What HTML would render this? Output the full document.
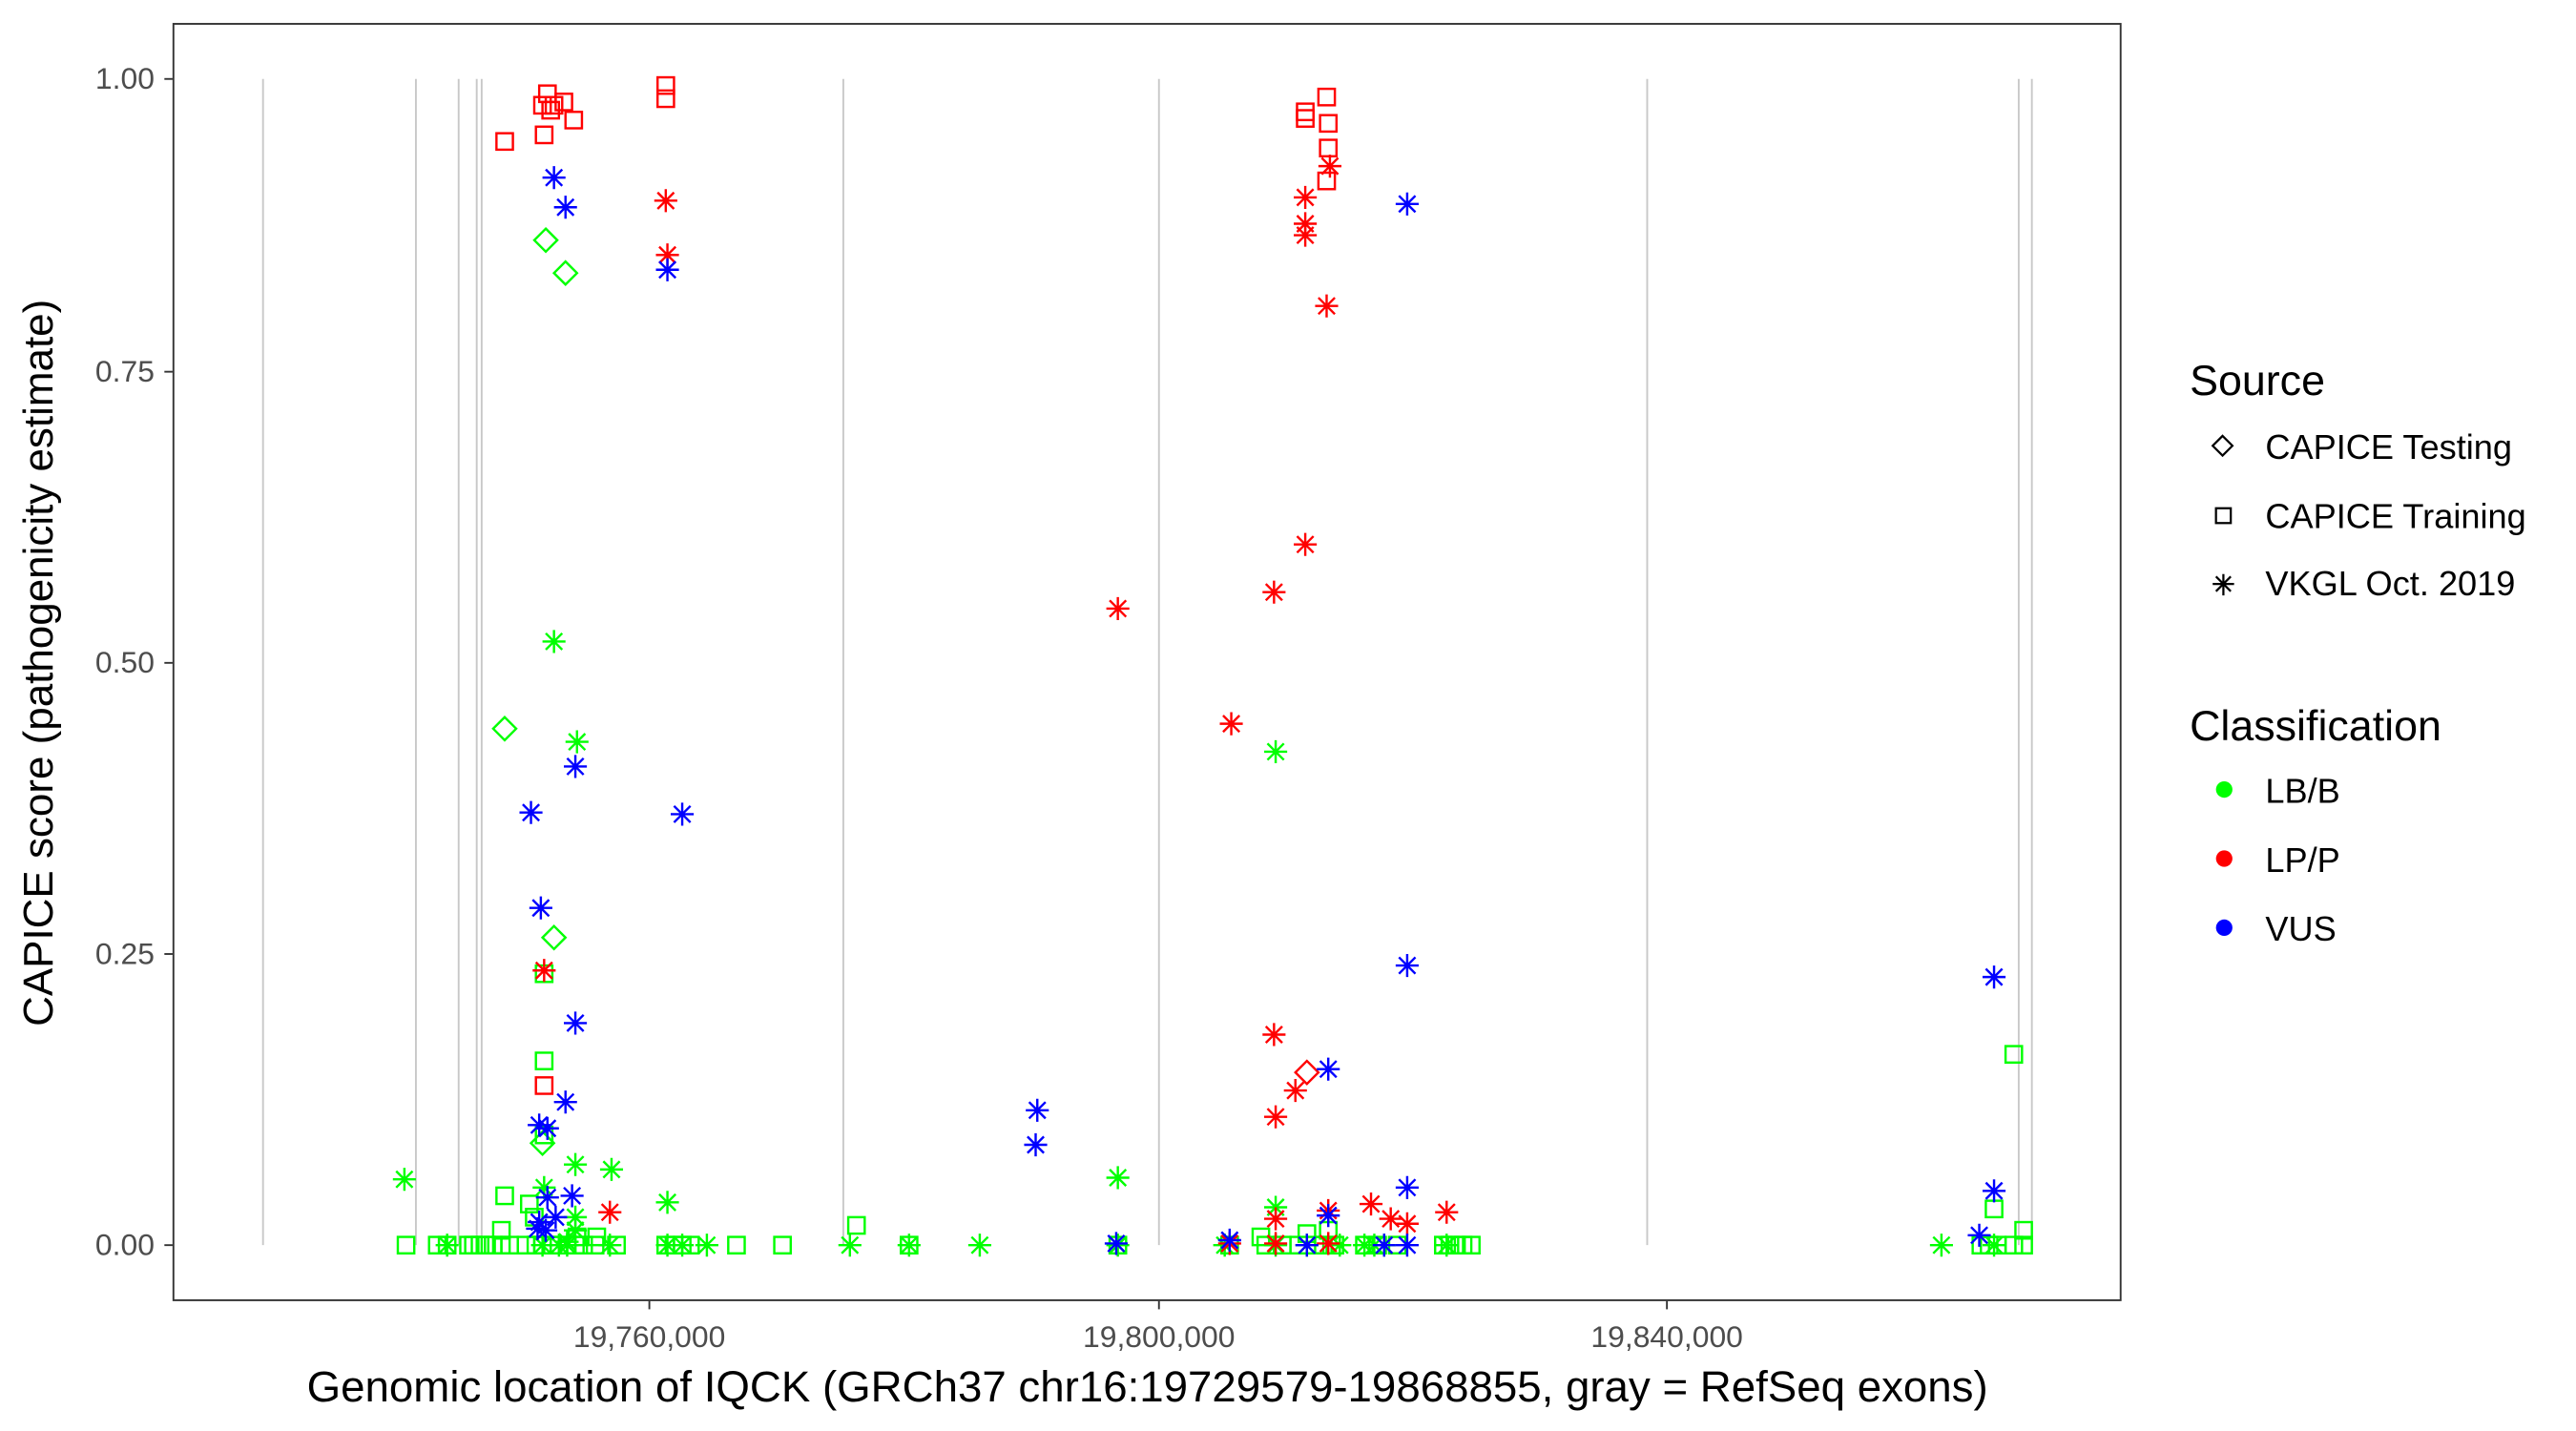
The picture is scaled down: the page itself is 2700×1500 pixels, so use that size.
<!DOCTYPE html>
<html><head><meta charset="utf-8"><style>
html,body{margin:0;padding:0;background:#fff;}
svg{display:block;}
text{font-family:"Liberation Sans",Arial,sans-serif;}
</style></head><body>
<svg id="s" width="2700" height="1500" viewBox="0 0 1567 870" preserveAspectRatio="none" xmlns="http://www.w3.org/2000/svg">
<rect x="0" y="0" width="1567" height="870" fill="#fff"/>
<g id="ex" stroke="#c8c8c8" stroke-width="1.1"></g>
<g id="pts" fill="none" stroke-width="1.4"></g>
<rect x="105.5" y="14.5" width="1184.5" height="776" fill="none" stroke="#333" stroke-width="1.1"/>
<g stroke="#333" stroke-width="1.1">
<line x1="100" y1="48" x2="105" y2="48"/><line x1="100" y1="226" x2="105" y2="226"/><line x1="100" y1="403" x2="105" y2="403"/><line x1="100" y1="580" x2="105" y2="580"/><line x1="100" y1="757" x2="105" y2="757"/>
<line x1="395" y1="791" x2="395" y2="796"/><line x1="705" y1="791" x2="705" y2="796"/><line x1="1014" y1="791" x2="1014" y2="796"/>
</g>
<g fill="#4d4d4d" font-size="18.5" text-anchor="end">
<text x="94" y="54">1.00</text><text x="94" y="232">0.75</text><text x="94" y="409">0.50</text><text x="94" y="586">0.25</text><text x="94" y="763">0.00</text>
</g>
<g fill="#4d4d4d" font-size="18.5" text-anchor="middle">
<text x="395" y="819">19,760,000</text><text x="705" y="819">19,800,000</text><text x="1014" y="819">19,840,000</text>
</g>
<text x="698" y="852" font-size="26.5" text-anchor="middle" fill="#000">Genomic location of IQCK (GRCh37 chr16:19729579-19868855, gray = RefSeq exons)</text>
<text transform="translate(32,403) rotate(-90)" font-size="25.5" text-anchor="middle" fill="#000">CAPICE score (pathogenicity estimate)</text>
<text x="1332" y="240" font-size="26" fill="#000">Source</text>
<path d="M1352 265 L1358 271 L1352 277 L1346 271 Z" fill="none" stroke="#000" stroke-width="1.3"/>
<text x="1378" y="279" font-size="21" fill="#000">CAPICE Testing</text>
<rect x="1348" y="309" width="9" height="9" fill="none" stroke="#000" stroke-width="1.3"/>
<text x="1378" y="321" font-size="21" fill="#000">CAPICE Training</text>
<g stroke="#000" stroke-width="1.3"><line x1="1346" y1="355" x2="1359" y2="355"/><line x1="1352.5" y1="349" x2="1352.5" y2="362"/><line x1="1348" y1="350.5" x2="1357" y2="359.5"/><line x1="1348" y1="359.5" x2="1357" y2="350.5"/></g>
<text x="1378" y="362" font-size="21" fill="#000">VKGL Oct. 2019</text>
<text x="1332" y="450" font-size="26" fill="#000">Classification</text>
<circle cx="1353" cy="480" r="5" fill="#00ff00"/><text x="1378" y="488" font-size="21" fill="#000">LB/B</text>
<circle cx="1353" cy="522" r="5" fill="#ff0000"/><text x="1378" y="530" font-size="21" fill="#000">LP/P</text>
<circle cx="1353" cy="564" r="5" fill="#0000ff"/><text x="1378" y="572" font-size="21" fill="#000">VUS</text>
</svg>
<script>
var ns="http://www.w3.org/2000/svg";
var ex=document.getElementById("ex");
[160,253,279,290,293,513,705,1002,1228,1236].forEach(function(x){
 var l=document.createElementNS(ns,"line");l.setAttribute("x1",x);l.setAttribute("x2",x);l.setAttribute("y1",48);l.setAttribute("y2",757);ex.appendChild(l);});
var g=document.getElementById("pts");
var C={g:"#00ff00",r:"#ff0000",b:"#0000ff"};
function add(sh,c,x,y){
 var e;
 if(sh=="s"){e=document.createElementNS(ns,"rect");e.setAttribute("x",x-5);e.setAttribute("y",y-5);e.setAttribute("width",10);e.setAttribute("height",10);}
 else if(sh=="d"){e=document.createElementNS(ns,"path");e.setAttribute("d","M"+x+" "+(y-7)+" L"+(x+7)+" "+y+" L"+x+" "+(y+7)+" L"+(x-7)+" "+y+" Z");}
 else {e=document.createElementNS(ns,"path");var r=7,q=5;
  e.setAttribute("d","M"+(x-r)+" "+y+"H"+(x+r)+"M"+x+" "+(y-r)+"V"+(y+r)+"M"+(x-q)+" "+(y-q)+"L"+(x+q)+" "+(y+q)+"M"+(x-q)+" "+(y+q)+"L"+(x+q)+" "+(y-q));}
 e.setAttribute("stroke",C[c]);g.appendChild(e);
}
[247,266,272,285,288,292,296,300,305,310,320,326,330,336,340,345,350,355,362,375,405,410,415,420,448,476,553,680,748,770,780,790,800,805,812,830,838,850,878,882,886,890,895,1205,1210,1215,1225,1231].forEach(function(x){add("s","g",x,757);});
[[331,592],[331,645],[331,690],[1225,641],[307,727],[322,732],[305,748],[325,740],[521,745],[1213,735],[1231,748],[767,752],[363,752],[351,752],[795,750],[808,748]].forEach(function(p){add("s","g",p[0],p[1]);});
[[337,390],[351,451],[776,457],[246,717],[350,708],[372,711],[680,716],[406,731],[776,734],[331,722],[350,740],[350,748],[345,755]].forEach(function(p){add("t","g",p[0],p[1]);});
[272,330,340,345,371,406,415,430,517,553,596,680,745,776,795,815,830,836,842,880,1181,1213].forEach(function(x){add("t","g",x,757);});
[[332,146],[344,166],[307,443],[337,570],[330,695]].forEach(function(p){add("d","g",p[0],p[1]);});
[[307,86],[331,82],[330,64],[333,57],[335,67],[337,64],[343,62],[349,73],[405,52],[405,60],[794,68],[794,72],[807,59],[808,75],[808,90],[807,110],[331,660]].forEach(function(p){add("s","r",p[0],p[1]);});
[[405,122],[406,155],[794,120],[794,136],[794,143],[809,101],[807,186],[794,331],[775,360],[680,370],[749,440],[331,590],[775,629],[788,663],[776,679],[371,737],[808,736],[834,732],[846,741],[856,744],[880,737],[776,741],[776,756],[808,756],[748,756]].forEach(function(p){add("t","r",p[0],p[1]);});
add("d","r",795,652);
[[337,108],[344,126],[406,164],[856,124],[350,466],[323,494],[415,495],[329,552],[350,622],[344,670],[328,684],[333,686],[631,675],[630,696],[856,587],[808,650],[1213,594],[856,722],[1213,724],[333,728],[348,727],[327,747],[332,748],[328,743],[679,756],[748,754],[795,757],[842,757],[856,757],[1204,751],[808,739],[338,740]].forEach(function(p){add("t","b",p[0],p[1]);});
</script>
</body></html>
